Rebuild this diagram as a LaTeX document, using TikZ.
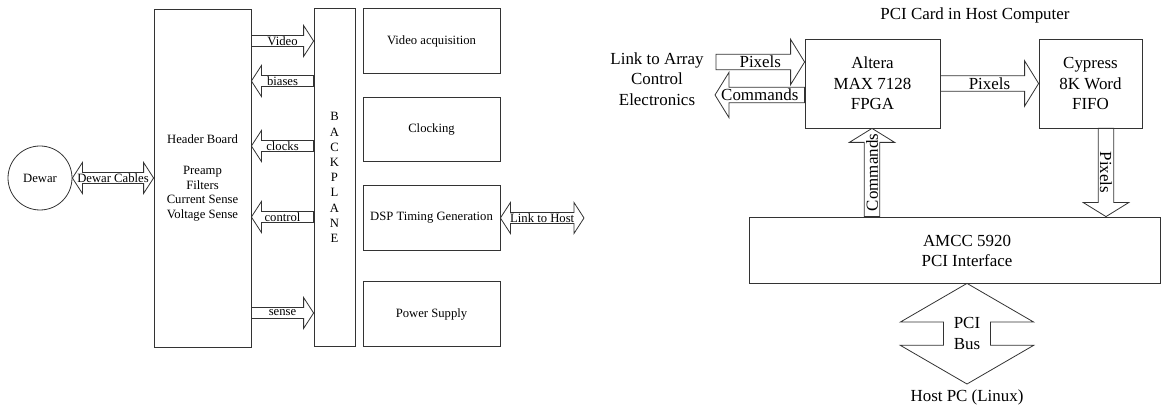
\documentclass[tikz,border=0pt]{standalone}
\usepackage{fontspec}
\setmainfont{Liberation Serif}
\usetikzlibrary{calc}

\newcommand{\lft}{\fontsize{9.5}{11}\selectfont}
\newcommand{\rgt}{\fontsize{12.7}{15.5}\selectfont}
\newcommand{\smallarrows}{\def\shafthw{4.1pt}\def\headhw{11.6pt}\def\headlen{7.5pt}}
\newcommand{\bigarrows}{\def\shafthw{5.8pt}\def\headhw{17pt}\def\headlen{10.5pt}}

% block arrow: [label opts]{name}{tail}{tip}{label}
\newcommand{\fatarrow}[5][]{%
  \coordinate (#2-b) at ($(#4)!\headlen!(#3)$);
  \draw[conn] ($(#3)!\shafthw!90:(#4)$) -- ($(#2-b)!\shafthw!90:(#4)$) -- ($(#2-b)!\headhw!90:(#4)$) -- (#4)
    -- ($(#2-b)!\headhw!-90:(#4)$) -- ($(#2-b)!\shafthw!-90:(#4)$) -- ($(#3)!\shafthw!-90:(#4)$) -- cycle;
  \node[lbl, #1] (#2) at ($(#3)!0.5!(#4)$) {#5};}
\newcommand{\fatdarrow}[5][]{%
  \coordinate (#2-a) at ($(#3)!\headlen!(#4)$);
  \coordinate (#2-b) at ($(#4)!\headlen!(#3)$);
  \draw[conn] (#3) -- ($(#2-a)!\headhw!90:(#4)$) -- ($(#2-a)!\shafthw!90:(#4)$) -- ($(#2-b)!\shafthw!90:(#4)$)
    -- ($(#2-b)!\headhw!90:(#4)$) -- (#4) -- ($(#2-b)!\headhw!-90:(#4)$) -- ($(#2-b)!\shafthw!-90:(#4)$)
    -- ($(#2-a)!\shafthw!-90:(#4)$) -- ($(#2-a)!\headhw!-90:(#4)$) -- cycle;
  \node[lbl, #1] (#2) at ($(#3)!0.5!(#4)$) {#5};}

\tikzset{
  box/.style={draw=black!80, line width=0.6pt, inner sep=0pt},
  conn/.style={draw=black!80, line width=0.6pt},
  card/.style={box, minimum width=102.75pt, minimum height=48.5pt, font=\lft},
  lbl/.style={inner sep=0pt, font=\lft},
}

\begin{document}
\begin{tikzpicture}[x=0.75pt, y=-0.75pt]
	\useasboundingbox (0,0) rectangle (1175,409);
	% camera controller
	\node[box, circle, minimum size=48pt, font=\lft] (dewar) at (40,178) {Dewar};
	\node[box, minimum width=72.75pt, minimum height=253.5pt, align=center, font=\lft] (hdr) at (202.5,178)
		{Header Board\\[12pt]Preamp\\Filters\\Current Sense\\Voltage Sense};
	\node[box, minimum width=30.75pt, minimum height=253pt, align=center, font=\fontsize{9.5}{11.4}\selectfont] (bkp) at (334.5,177.5)
		{B\\A\\C\\K\\P\\L\\A\\N\\E};
	\node[card] (vid) at (431.5,41) {Video acquisition};
	\node[card] (clk) at (431.5,129.5) {Clocking};
	\node[card] (dsp) at (431.5,218) {DSP Timing Generation};
	\node[card] (pwr) at (431.5,314) {Power Supply};
	\coordinate (host) at (584,218);
	% arrows
	\smallarrows
	\fatdarrow{cables}{dewar.east}{hdr.west |- dewar.east}{Dewar Cables}
	\foreach \y/\txt in {41/Video, 313/sense} {\fatarrow{\txt}{hdr.east |- 0,\y}{bkp.west |- 0,\y}{\txt}}
	\foreach \y/\txt in {81/biases, 146/clocks, 217/control} {\fatarrow{\txt}{bkp.west |- 0,\y}{hdr.east |- 0,\y}{\txt}}
	\fatdarrow{tohost}{dsp.east}{host}{Link to Host}

	% PCI card
	\node[font=\rgt, inner sep=0pt] (title) at (975,15) {PCI Card in Host Computer};
	\node[font=\rgt, align=center, inner sep=0pt] (link) at (657,79) {Link to Array\\Control\\Electronics};
	\node[box, minimum width=101.25pt, minimum height=66.75pt, align=center, font=\rgt] (alt) at (872.5,83.5) {Altera\\MAX 7128\\FPGA};
	\node[box, minimum width=77.25pt, minimum height=66.75pt, align=center, font=\rgt] (cyp) at (1090.5,83.5) {Cypress\\8K Word\\FIFO};
	\node[box, minimum width=308.25pt, minimum height=49.5pt] (amcc) at (954.5,250) {};
	\node[font=\rgt, align=center, inner sep=0pt] (amcctxt) at (967,251) {AMCC 5920\\PCI Interface};
	\coordinate (pxtail) at (716,62);
	\coordinate (cmdtip) at (715,95);
	\coordinate (busend) at (967,384);
	\bigarrows
	\fatarrow[font=\rgt]{pxin}{pxtail}{alt.west |- pxtail}{Pixels}
	\fatarrow[font=\rgt]{cmdout}{alt.west |- cmdtip}{cmdtip}{Commands}
	\fatarrow[font=\rgt]{pxfifo}{alt.east}{cyp.west}{Pixels}
	\fatarrow[font=\rgt, rotate=90]{cmdup}{amcc.north -| 872,0}{alt.south -| 872,0}{Commands}
	\fatarrow[font=\rgt, rotate=-90]{pxdown}{cyp.south -| 1106,0}{amcc.north -| 1106,0}{Pixels}
	\def\shafthw{17.6pt}\def\headhw{50pt}\def\headlen{29pt}
	\fatdarrow[font=\rgt, align=center]{bus}{busend}{amcc.south -| busend}{PCI\\Bus}
	\node[font=\rgt, inner sep=0pt] (hostpc) at (967,397) {Host PC (Linux)};
\end{tikzpicture}
\end{document}
